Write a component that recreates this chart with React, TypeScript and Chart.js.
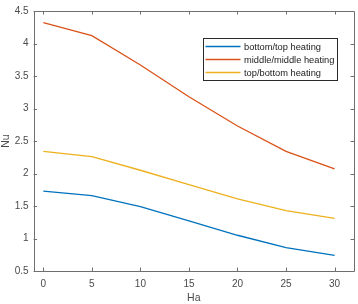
import React, { useEffect, useRef } from 'react';
import { Chart, registerables } from 'chart.js';

Chart.register(...registerables);

const haValues = [0, 5, 10, 15, 20, 25, 30];
const bottomTopNu = [1.73, 1.66, 1.49, 1.27, 1.05, 0.86, 0.74];
const middleMiddleNu = [4.32, 4.12, 3.67, 3.18, 2.73, 2.34, 2.07];
const topBottomNu = [2.34, 2.26, 2.05, 1.83, 1.61, 1.43, 1.31];
const seriesLabels = ['bottom/top heating', 'middle/middle heating', 'top/bottom heating'];
const seriesColors = ['#0072BD', '#D95319', '#EDB120'];
const xTickValues = [0, 5, 10, 15, 20, 25, 30];
const yTickValues = [0.5, 1, 1.5, 2, 2.5, 3, 3.5, 4, 4.5];
const xRange = [-1, 32];
const yRange = [0.5, 4.5];

const FONT = '"Liberation Sans", Arial, Helvetica, sans-serif';
const AXIS_COLOR = '#6f6f6f';
const TEXT_COLOR = '#4a4a4a';

const framePlugin = {
  id: 'matlabFrame',
  afterDatasetsDraw(chart: any) {
    const { ctx, chartArea } = chart;
    const { left, right, top, bottom } = chartArea;
    const xs = chart.scales.x;
    const ys = chart.scales.y;
    const tl = 3.5;
    ctx.save();
    ctx.strokeStyle = AXIS_COLOR;
    ctx.lineWidth = 1;
    ctx.beginPath();
    ctx.rect(Math.round(left) + 0.5, Math.round(top) + 0.5, Math.round(right - left), Math.round(bottom - top));
    for (const v of xTickValues) {
      const px = Math.round(xs.getPixelForValue(v)) + 0.5;
      ctx.moveTo(px, bottom);
      ctx.lineTo(px, bottom - tl);
      ctx.moveTo(px, top);
      ctx.lineTo(px, top + tl);
    }
    for (const v of yTickValues) {
      const py = Math.round(ys.getPixelForValue(v)) + 0.5;
      ctx.moveTo(left, py);
      ctx.lineTo(left + tl, py);
      ctx.moveTo(right, py);
      ctx.lineTo(right - tl, py);
    }
    ctx.stroke();
    ctx.restore();
  },
  afterDraw(chart: any) {
    const { ctx, chartArea } = chart;
    const boxW = 134;
    const boxH = 42;
    const bx = Math.round(chartArea.right - 17 - boxW) + 0.5;
    const by = Math.round(chartArea.top + 27) + 0.5;
    ctx.save();
    ctx.fillStyle = '#ffffff';
    ctx.fillRect(bx, by, boxW, boxH);
    ctx.strokeStyle = '#2a2a2a';
    ctx.lineWidth = 1;
    ctx.strokeRect(bx, by, boxW, boxH);
    ctx.font = `9.3px ${FONT}`;
    ctx.textBaseline = 'middle';
    ctx.textAlign = 'left';
    chart.data.datasets.forEach((ds: any, i: number) => {
      const ry = by + 8 + i * 13;
      ctx.strokeStyle = ds.borderColor;
      ctx.lineWidth = 1.3;
      ctx.beginPath();
      ctx.moveTo(bx + 2, ry);
      ctx.lineTo(bx + 37, ry);
      ctx.stroke();
      ctx.fillStyle = '#1a1a1a';
      ctx.fillText(ds.label, bx + 40.5, ry + 0.5);
    });
    ctx.restore();
  },
};

export default function App() {
  const canvasRef = useRef<HTMLCanvasElement | null>(null);

  useEffect(() => {
    document.body.style.margin = '0';
    const canvas = canvasRef.current;
    if (!canvas) return;
    const seriesValues = [bottomTopNu, middleMiddleNu, topBottomNu];
    const chart = new Chart(canvas, {
      type: 'line',
      data: {
        datasets: seriesValues.map((vals, i) => ({
          label: seriesLabels[i],
          data: haValues.map((x, j) => ({ x, y: vals[j] })),
          borderColor: seriesColors[i],
          backgroundColor: seriesColors[i],
          borderWidth: 1.3,
          pointRadius: 0,
          tension: 0,
          fill: false,
        })),
      },
      options: {
        animation: false,
        responsive: false,
        maintainAspectRatio: false,
        devicePixelRatio: 1,
        layout: { padding: { top: 4, right: 4, left: 0, bottom: 0 } },
        plugins: {
          legend: { display: false },
          tooltip: { enabled: false },
        },
        scales: {
          x: {
            type: 'linear',
            min: xRange[0],
            max: xRange[1],
            afterBuildTicks: (scale: any) => {
              scale.ticks = xTickValues.map((v) => ({ value: v }));
            },
            afterFit: (scale: any) => {
              scale.height = 33;
            },
            grid: { display: false, drawTicks: false },
            border: { display: false },
            ticks: {
              padding: 7,
              color: TEXT_COLOR,
              font: { family: FONT, size: 10 },
              maxRotation: 0,
              autoSkip: false,
              callback: (v: any) => String(v),
            },
            title: {
              display: true,
              text: 'Ha',
              color: TEXT_COLOR,
              font: { family: FONT, size: 10.5 },
              padding: { top: 0, bottom: 0 },
            },
          },
          y: {
            type: 'linear',
            min: yRange[0],
            max: yRange[1],
            afterBuildTicks: (scale: any) => {
              scale.ticks = yTickValues.map((v) => ({ value: v }));
            },
            afterFit: (scale: any) => {
              scale.width = 33.6;
            },
            grid: { display: false, drawTicks: false },
            border: { display: false },
            ticks: {
              padding: 5,
              color: TEXT_COLOR,
              font: { family: FONT, size: 10 },
              autoSkip: false,
              callback: (v: any) => String(v),
            },
            title: {
              display: true,
              text: 'Nu',
              color: TEXT_COLOR,
              font: { family: FONT, size: 10.5 },
              padding: { top: 0, bottom: 0 },
            },
          },
        },
      },
      plugins: [framePlugin],
    } as any);
    return () => chart.destroy();
  }, []);

  return (
    <div style={{ position: 'absolute', left: 0, top: 0, width: 358, height: 304, background: '#fff' }}>
      <canvas ref={canvasRef} width={358} height={304} style={{ width: 358, height: 304, display: 'block' }} />
    </div>
  );
}
